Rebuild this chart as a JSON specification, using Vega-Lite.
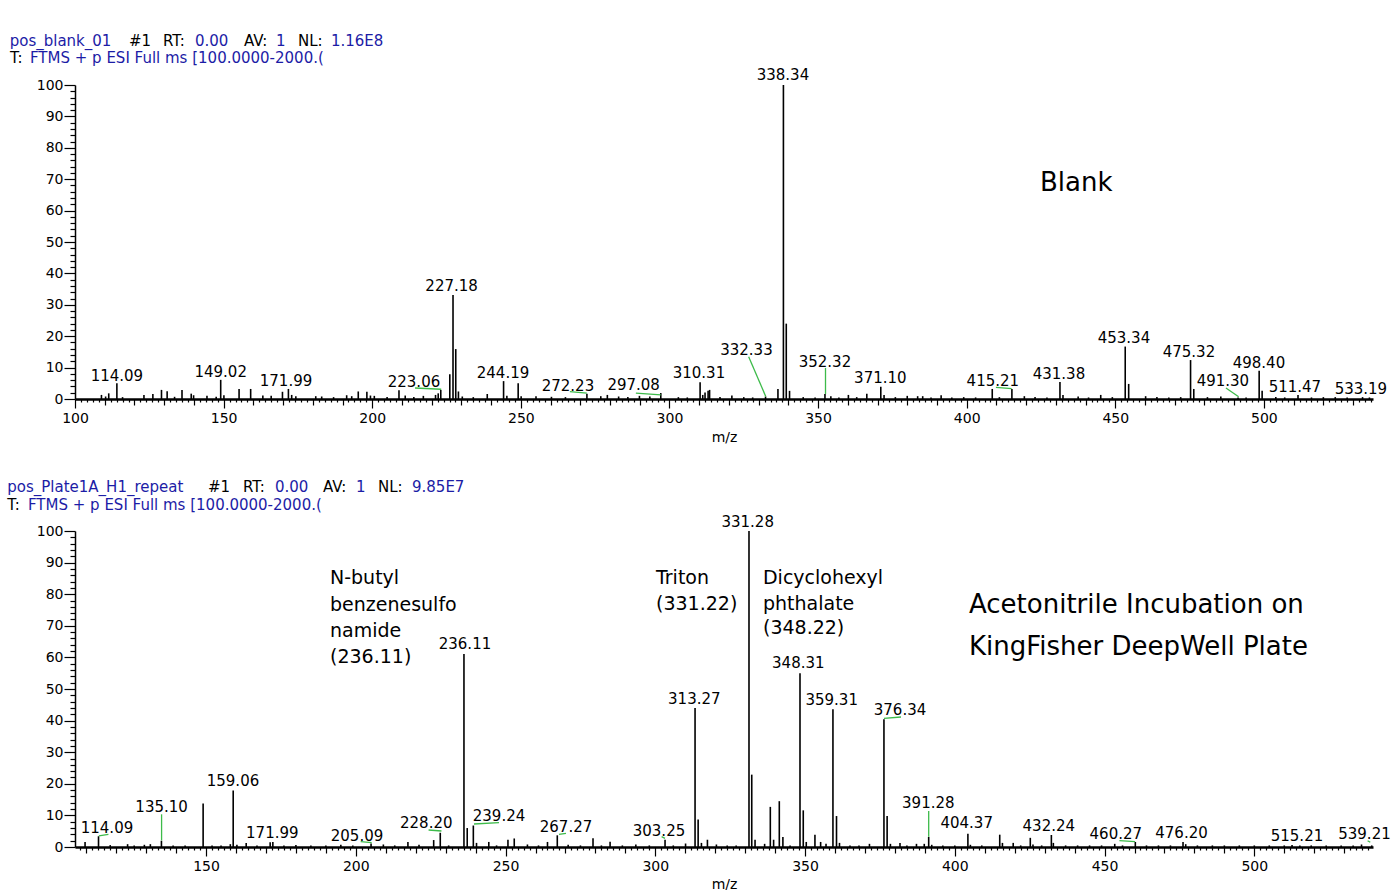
{
  "$schema": "https://vega.github.io/schema/vega-lite/v6.json",
  "background": "white",
  "padding": {"left": 7, "top": 33, "right": 0, "bottom": 0},
  "config": {
    "view": {"stroke": null},
    "axis": {
      "grid": false, "labelFont": "DejaVu Sans", "labelFontSize": 14, "labelColor": "black",
      "tickColor": "black", "domainColor": "black", "tickWidth": 1.2,
      "titleFont": "DejaVu Sans", "titleFontSize": 14, "titleFontWeight": "normal", "titleColor": "black",
      "labelOverlap": false, "labelFlush": false
    }
  },
  "datasets": {
    "top_peaks": [
      {"mz":108.9,"i":1.3},{"mz":110.3,"i":0.8},{"mz":111.35,"i":1.8},{"mz":114.09,"i":5.0},{"mz":116,"i":0.6},{"mz":123.2,"i":1.3},{"mz":126.2,"i":1.6},{"mz":129.1,"i":2.9},{"mz":131.0,"i":2.5},{"mz":133.5,"i":0.7},{"mz":136.0,"i":2.9},{"mz":139.1,"i":1.7},{"mz":139.9,"i":1.2},{"mz":144.4,"i":1.0},{"mz":147.5,"i":0.7},{"mz":149.02,"i":6.1},{"mz":150.1,"i":1.2},{"mz":155.2,"i":3.2},{"mz":159.1,"i":3.2},{"mz":163.2,"i":1.1},{"mz":166.0,"i":1.0},{"mz":169.8,"i":2.3},{"mz":171.8,"i":3.2},{"mz":172.9,"i":1.3},{"mz":174.3,"i":0.9},{"mz":181.0,"i":0.9},{"mz":183.0,"i":0.8},{"mz":187,"i":0.6},{"mz":191.4,"i":1.2},{"mz":193.1,"i":0.9},{"mz":195.3,"i":2.4},{"mz":198.2,"i":2.3},{"mz":199.4,"i":1.1},{"mz":200.7,"i":1.0},{"mz":205,"i":0.6},{"mz":209.0,"i":2.8},{"mz":211.1,"i":1.1},{"mz":214,"i":0.6},{"mz":217.2,"i":1.0},{"mz":221.3,"i":1.3},{"mz":222.2,"i":1.8},{"mz":223.06,"i":2.9},{"mz":226.1,"i":7.9},{"mz":227.18,"i":33.1},{"mz":228.1,"i":15.9},{"mz":229.0,"i":2.4},{"mz":230.3,"i":0.8},{"mz":234,"i":0.6},{"mz":238.7,"i":1.6},{"mz":244.19,"i":5.7},{"mz":245.3,"i":1.0},{"mz":249.1,"i":5.0},{"mz":250.1,"i":0.9},{"mz":255.1,"i":0.9},{"mz":260.3,"i":0.7},{"mz":265,"i":0.6},{"mz":272.23,"i":1.7},{"mz":276.9,"i":0.9},{"mz":279.1,"i":1.3},{"mz":282.9,"i":0.8},{"mz":286,"i":0.6},{"mz":289.9,"i":1.0},{"mz":293.4,"i":0.8},{"mz":297.08,"i":1.9},{"mz":303,"i":0.6},{"mz":306,"i":0.5},{"mz":310.31,"i":5.3},{"mz":311.2,"i":1.3},{"mz":311.97,"i":2.1},{"mz":313.0,"i":2.6},{"mz":313.5,"i":2.9},{"mz":317,"i":0.6},{"mz":321.0,"i":1.1},{"mz":325,"i":0.6},{"mz":328,"i":0.5},{"mz":332.33,"i":0.8},{"mz":336.5,"i":3.2},{"mz":338.34,"i":100},{"mz":339.3,"i":24},{"mz":340.4,"i":2.6},{"mz":345,"i":0.6},{"mz":349,"i":0.5},{"mz":352.32,"i":1.6},{"mz":354.3,"i":0.9},{"mz":357,"i":0.5},{"mz":360.2,"i":1.3},{"mz":363,"i":0.6},{"mz":366.4,"i":1.7},{"mz":371.10,"i":3.9},{"mz":372.2,"i":1.3},{"mz":376,"i":0.6},{"mz":380.0,"i":1.0},{"mz":383.5,"i":0.9},{"mz":385.2,"i":0.9},{"mz":388,"i":0.5},{"mz":391.4,"i":1.2},{"mz":395,"i":0.5},{"mz":399,"i":0.6},{"mz":403,"i":0.5},{"mz":408.6,"i":3.2},{"mz":411,"i":0.6},{"mz":415.21,"i":3.2},{"mz":419.4,"i":0.9},{"mz":423,"i":0.6},{"mz":427,"i":0.5},{"mz":431.38,"i":5.4},{"mz":432.4,"i":1.3},{"mz":437.5,"i":0.8},{"mz":441,"i":0.5},{"mz":445.1,"i":1.3},{"mz":449,"i":0.6},{"mz":453.34,"i":16.7},{"mz":454.5,"i":4.8},{"mz":460.2,"i":0.9},{"mz":464,"i":0.6},{"mz":468,"i":0.5},{"mz":472,"i":0.6},{"mz":475.32,"i":12.4},{"mz":476.4,"i":3.2},{"mz":481,"i":0.6},{"mz":485.5,"i":0.8},{"mz":491.3,"i":0.5},{"mz":494,"i":0.5},{"mz":498.40,"i":9.0},{"mz":499.4,"i":2.6},{"mz":504,"i":0.6},{"mz":507,"i":0.5},{"mz":511.47,"i":1.3},{"mz":516,"i":0.5},{"mz":520,"i":0.6},{"mz":524,"i":0.6},{"mz":528,"i":0.5},{"mz":533.19,"i":0.6},{"mz":535.5,"i":0.5}
    ],
    "top_labels": [
      {"t":"114.09","mz":114.09,"i":7.42},{"t":"149.02","mz":149.02,"i":8.69},{"t":"171.99","mz":171.0,"i":5.83},{"t":"223.06","mz":214.05,"i":5.32},{"t":"227.18","mz":226.7,"i":35.99},{"t":"244.19","mz":244.0,"i":8.38},{"t":"272.23","mz":265.85,"i":4.24},{"t":"297.08","mz":287.96,"i":4.46},{"t":"310.31","mz":309.92,"i":8.28},{"t":"332.33","mz":325.9,"i":15.61},{"t":"338.34","mz":338.19,"i":103.18},{"t":"352.32","mz":352.32,"i":11.88},{"t":"371.10","mz":370.95,"i":6.59},{"t":"415.21","mz":408.8,"i":5.83},{"t":"431.38","mz":431.04,"i":7.96},{"t":"453.34","mz":452.91,"i":19.52},{"t":"475.32","mz":474.78,"i":15.06},{"t":"498.40","mz":498.33,"i":11.56},{"t":"491.30","mz":486.21,"i":5.83},{"t":"511.47","mz":510.43,"i":3.92},{"t":"533.19","mz":532.64,"i":3.09}
    ],
    "top_lines": [
      {"mz":214.4,"i":3.5,"mz2":223.2,"i2":3.1},{"mz":266.5,"i":2.33,"mz2":272.2,"i2":1.9},{"mz":288.7,"i":1.9,"mz2":297.1,"i2":1.3},{"mz":326.65,"i":13.47,"mz2":332.4,"i2":0.8},{"mz":352.5,"i":9.9,"mz2":352.5,"i2":1.6},{"mz":409.84,"i":3.73,"mz2":415.12,"i2":3.28},{"mz":487.22,"i":3.5,"mz2":491.5,"i2":0.7}
    ],
    "top_head": [
      {"t":"pos_blank_01","mz":78.03,"i":114.11,"k":"val"},{"t":"#1","mz":118.17,"i":114.11,"k":"key"},{"t":"RT:","mz":129.6,"i":114.11,"k":"key"},{"t":"0.00","mz":140.37,"i":114.11,"k":"val"},{"t":"AV:","mz":156.85,"i":114.11,"k":"key"},{"t":"1","mz":167.62,"i":114.11,"k":"val"},{"t":"NL:","mz":175.02,"i":114.11,"k":"key"},{"t":"1.16E8","mz":186.12,"i":114.11,"k":"val"},
      {"t":"T:","mz":78.13,"i":108.5,"k":"key"},{"t":"FTMS + p ESI Full ms [100.0000-2000.(","mz":84.86,"i":108.5,"k":"val"}
    ],
    "bot_peaks": [
      {"mz":109.6,"i":1.6},{"mz":114.09,"i":3.4},{"mz":118,"i":0.6},{"mz":123.8,"i":0.9},{"mz":126,"i":0.5},{"mz":129.4,"i":0.7},{"mz":131.4,"i":0.9},{"mz":135.10,"i":2.0},{"mz":139,"i":0.5},{"mz":143,"i":0.5},{"mz":149.02,"i":13.8},{"mz":152,"i":0.5},{"mz":155,"i":0.5},{"mz":158.1,"i":0.9},{"mz":159.06,"i":17.9},{"mz":160.3,"i":0.7},{"mz":163.4,"i":1.3},{"mz":167,"i":0.5},{"mz":171.4,"i":1.5},{"mz":172.3,"i":1.6},{"mz":176,"i":0.5},{"mz":180,"i":0.6},{"mz":185,"i":0.5},{"mz":190,"i":0.5},{"mz":195.0,"i":0.7},{"mz":199,"i":0.5},{"mz":205.09,"i":1.1},{"mz":209.2,"i":0.8},{"mz":213,"i":0.5},{"mz":217.4,"i":1.6},{"mz":221.1,"i":0.7},{"mz":226.0,"i":2.2},{"mz":228.20,"i":4.5},{"mz":231,"i":0.5},{"mz":236.11,"i":61.1},{"mz":237.2,"i":6.0},{"mz":239.24,"i":6.8},{"mz":240.3,"i":1.3},{"mz":244.4,"i":1.6},{"mz":247,"i":0.5},{"mz":250.8,"i":2.3},{"mz":252.9,"i":2.7},{"mz":257.3,"i":0.8},{"mz":261,"i":0.5},{"mz":264.0,"i":1.6},{"mz":267.27,"i":3.7},{"mz":270.9,"i":0.7},{"mz":275,"i":0.5},{"mz":279.2,"i":2.8},{"mz":282,"i":0.5},{"mz":284.9,"i":1.7},{"mz":289,"i":0.5},{"mz":293.5,"i":0.8},{"mz":298,"i":0.5},{"mz":303.25,"i":2.3},{"mz":306,"i":0.5},{"mz":310.1,"i":1.1},{"mz":313.27,"i":44.0},{"mz":314.3,"i":8.7},{"mz":315.4,"i":1.3},{"mz":317.4,"i":2.3},{"mz":320.4,"i":0.8},{"mz":324,"i":0.5},{"mz":327,"i":0.5},{"mz":331.28,"i":100},{"mz":332.2,"i":22.9},{"mz":333.3,"i":2.3},{"mz":336.5,"i":1.0},{"mz":338.4,"i":12.7},{"mz":339.5,"i":2.3},{"mz":341.4,"i":14.5},{"mz":342.6,"i":3.2},{"mz":345,"i":0.5},{"mz":348.31,"i":55.0},{"mz":349.4,"i":11.6},{"mz":350.4,"i":1.6},{"mz":353.3,"i":3.9},{"mz":355.2,"i":1.6},{"mz":357.0,"i":1.0},{"mz":359.31,"i":43.6},{"mz":360.5,"i":9.8},{"mz":361.5,"i":1.3},{"mz":365,"i":0.5},{"mz":368,"i":0.5},{"mz":371.5,"i":1.0},{"mz":376.34,"i":40.4},{"mz":377.4,"i":9.8},{"mz":378.5,"i":1.0},{"mz":381.7,"i":1.3},{"mz":384,"i":0.5},{"mz":387.2,"i":1.0},{"mz":389.8,"i":1.0},{"mz":391.28,"i":3.2},{"mz":392.3,"i":0.7},{"mz":396,"i":0.5},{"mz":400,"i":0.5},{"mz":404.37,"i":4.2},{"mz":405.2,"i":0.7},{"mz":409,"i":0.5},{"mz":415.0,"i":3.9},{"mz":415.9,"i":1.3},{"mz":419.5,"i":1.3},{"mz":422,"i":0.5},{"mz":425.2,"i":2.9},{"mz":426.1,"i":0.8},{"mz":429,"i":0.5},{"mz":432.24,"i":3.8},{"mz":432.9,"i":1.3},{"mz":437,"i":0.5},{"mz":441,"i":0.5},{"mz":445,"i":0.5},{"mz":449,"i":0.5},{"mz":453.4,"i":1.0},{"mz":456,"i":0.5},{"mz":460.27,"i":1.6},{"mz":464,"i":0.5},{"mz":468,"i":0.5},{"mz":472,"i":0.5},{"mz":476.20,"i":1.6},{"mz":477.1,"i":0.9},{"mz":481,"i":0.5},{"mz":486,"i":0.5},{"mz":490,"i":0.5},{"mz":495,"i":0.5},{"mz":500,"i":0.5},{"mz":505,"i":0.5},{"mz":510,"i":0.5},{"mz":512.6,"i":0.6},{"mz":515.21,"i":0.5},{"mz":519,"i":0.5},{"mz":524,"i":0.5},{"mz":529,"i":0.5},{"mz":533,"i":0.5},{"mz":535.8,"i":0.8},{"mz":539.21,"i":0.5}
    ],
    "bot_labels": [
      {"t":"114.09","mz":116.92,"i":5.92},{"t":"135.10","mz":135.15,"i":12.56},{"t":"159.06","mz":158.99,"i":20.98},{"t":"171.99","mz":172.12,"i":4.34},{"t":"205.09","mz":200.4,"i":3.58},{"t":"228.20","mz":223.53,"i":7.5},{"t":"239.24","mz":247.81,"i":9.81},{"t":"267.27","mz":270.18,"i":6.42},{"t":"303.25","mz":301.23,"i":5.16},{"t":"313.27","mz":313.02,"i":46.74},{"t":"236.11","mz":236.45,"i":64.24},{"t":"331.28","mz":330.85,"i":102.94},{"t":"348.31","mz":347.74,"i":58.13},{"t":"359.31","mz":358.89,"i":46.52},{"t":"376.34","mz":381.7,"i":43.35},{"t":"391.28","mz":391.15,"i":13.83},{"t":"404.37","mz":403.97,"i":7.5},{"t":"432.24","mz":431.38,"i":6.65},{"t":"460.27","mz":453.75,"i":4.11},{"t":"476.20","mz":475.69,"i":4.34},{"t":"515.21","mz":514.25,"i":3.48},{"t":"539.21","mz":536.79,"i":4.02}
    ],
    "bot_lines": [
      {"mz":114.2,"i":3.5,"mz2":117.4,"i2":4.0},{"mz":135.15,"i":10.35,"mz2":135.15,"i2":2.1},{"mz":201.63,"i":1.68,"mz2":205.3,"i2":1.36},{"mz":224.3,"i":5.38,"mz2":228.6,"i2":5.06},{"mz":239.46,"i":7.28,"mz2":247.81,"i2":7.69},{"mz":267.84,"i":4.02,"mz2":270.18,"i2":4.34},{"mz":302.1,"i":3.26,"mz2":303.23,"i2":2.75},{"mz":376.35,"i":40.73,"mz2":382.03,"i2":41.14},{"mz":391.28,"i":11.39,"mz2":391.28,"i2":3.26},{"mz":454.95,"i":1.99,"mz2":460.16,"i2":1.68},{"mz":537.83,"i":1.99,"mz2":538.73,"i2":1.49}
    ],
    "bot_head": [
      {"t":"pos_Plate1A_H1_repeat","mz":83.63,"i":114.02,"k":"val"},{"t":"#1","mz":150.64,"i":114.02,"k":"key"},{"t":"RT:","mz":162.33,"i":114.02,"k":"key"},{"t":"0.00","mz":173.02,"i":114.02,"k":"val"},{"t":"AV:","mz":189.04,"i":114.02,"k":"key"},{"t":"1","mz":200.06,"i":114.02,"k":"val"},{"t":"NL:","mz":207.4,"i":114.02,"k":"key"},{"t":"9.85E7","mz":218.76,"i":114.02,"k":"val"},
      {"t":"T:","mz":83.63,"i":108.23,"k":"key"},{"t":"FTMS + p ESI Full ms [100.0000-2000.(","mz":90.55,"i":108.23,"k":"val"}
    ]
  },
  "vconcat": [
    {
      "width": 1298, "height": 314,
      "layer": [
        {
          "data": {"name": "top_peaks"},
          "mark": {"type": "rule", "color": "black", "strokeWidth": 1.6},
          "encoding": {
            "x": {"field": "mz", "type": "quantitative", "scale": {"domain": [100, 536.7], "nice": false, "zero": false},
              "axis": {"title": "m/z", "tickCount": 218, "labelExpr": "datum.value % 50 === 0 ? datum.label : ''",
                "tickSize": {"condition": [{"test": "datum.value % 50 === 0", "value": 9}, {"test": "datum.value % 10 === 0", "value": 6}], "value": 3},
                "labelPadding": 3, "titlePadding": 5, "domainWidth": 2.5}},
            "y": {"field": "i", "type": "quantitative", "scale": {"domain": [0, 100], "nice": false},
              "axis": {"title": null, "tickCount": 50, "labelExpr": "datum.value % 10 === 0 ? datum.label : ''",
                "tickSize": {"condition": {"test": "datum.value % 10 === 0", "value": 11}, "value": 5},
                "labelPadding": 1, "domainWidth": 1.5}},
            "y2": {"datum": 0}
          }
        },
        {
          "data": {"name": "top_lines"},
          "mark": {"type": "rule", "color": "#3dbb4a", "strokeWidth": 1.3},
          "encoding": {
            "x": {"field": "mz", "type": "quantitative"}, "y": {"field": "i", "type": "quantitative"},
            "x2": {"field": "mz2"}, "y2": {"field": "i2"}
          }
        },
        {
          "data": {"name": "top_labels"},
          "mark": {"type": "text", "font": "DejaVu Sans", "fontSize": 15, "align": "center", "baseline": "middle", "color": "black"},
          "encoding": {
            "x": {"field": "mz", "type": "quantitative"}, "y": {"field": "i", "type": "quantitative"},
            "text": {"field": "t"}
          }
        },
        {
          "data": {"name": "top_head"},
          "mark": {"type": "text", "font": "DejaVu Sans", "fontSize": 15, "align": "left", "baseline": "middle"},
          "encoding": {
            "x": {"field": "mz", "type": "quantitative"}, "y": {"field": "i", "type": "quantitative"},
            "text": {"field": "t"},
            "color": {"field": "k", "type": "nominal", "scale": {"domain": ["key", "val"], "range": ["#000000", "#1c1ca6"]}, "legend": null}
          }
        },
        {
          "data": {"values": [{"t": "Blank", "mz": 424.64, "i": 68.79}]},
          "mark": {"type": "text", "font": "DejaVu Sans", "fontSize": 26, "align": "left", "baseline": "middle", "color": "black"},
          "encoding": {
            "x": {"field": "mz", "type": "quantitative"}, "y": {"field": "i", "type": "quantitative"},
            "text": {"field": "t"}
          }
        }
      ]
    },
    {
      "width": 1298, "height": 316,
      "layer": [
        {
          "data": {"name": "bot_peaks"},
          "mark": {"type": "rule", "color": "black", "strokeWidth": 1.6},
          "encoding": {
            "x": {"field": "mz", "type": "quantitative", "scale": {"domain": [106.24, 539.63], "nice": false, "zero": false},
              "axis": {"title": "m/z", "tickCount": 217, "labelExpr": "datum.value % 50 === 0 ? datum.label : ''",
                "tickSize": {"condition": [{"test": "datum.value % 50 === 0", "value": 9}, {"test": "datum.value % 10 === 0", "value": 6}], "value": 3},
                "labelPadding": 3, "titlePadding": 4, "domainWidth": 2.5}},
            "y": {"field": "i", "type": "quantitative", "scale": {"domain": [0, 100], "nice": false},
              "axis": {"title": null, "tickCount": 50, "labelExpr": "datum.value % 10 === 0 ? datum.label : ''",
                "tickSize": {"condition": {"test": "datum.value % 10 === 0", "value": 11}, "value": 5},
                "labelPadding": 1, "domainWidth": 1.5}},
            "y2": {"datum": 0}
          }
        },
        {
          "data": {"name": "bot_lines"},
          "mark": {"type": "rule", "color": "#3dbb4a", "strokeWidth": 1.3},
          "encoding": {
            "x": {"field": "mz", "type": "quantitative"}, "y": {"field": "i", "type": "quantitative"},
            "x2": {"field": "mz2"}, "y2": {"field": "i2"}
          }
        },
        {
          "data": {"name": "bot_labels"},
          "mark": {"type": "text", "font": "DejaVu Sans", "fontSize": 15, "align": "center", "baseline": "middle", "color": "black"},
          "encoding": {
            "x": {"field": "mz", "type": "quantitative"}, "y": {"field": "i", "type": "quantitative"},
            "text": {"field": "t"}
          }
        },
        {
          "data": {"name": "bot_head"},
          "mark": {"type": "text", "font": "DejaVu Sans", "fontSize": 15, "align": "left", "baseline": "middle"},
          "encoding": {
            "x": {"field": "mz", "type": "quantitative"}, "y": {"field": "i", "type": "quantitative"},
            "text": {"field": "t"},
            "color": {"field": "k", "type": "nominal", "scale": {"domain": ["key", "val"], "range": ["#000000", "#1c1ca6"]}, "legend": null}
          }
        },
        {
          "data": {"values": [
            {"t": "N-butyl", "mz": 191.38, "i": 85.13},
            {"t": "benzenesulfo", "mz": 191.38, "i": 76.58},
            {"t": "namide", "mz": 191.38, "i": 68.35},
            {"t": "(236.11)", "mz": 191.38, "i": 60.13},
            {"t": "Triton", "mz": 300.23, "i": 85.13},
            {"t": "(331.22)", "mz": 300.23, "i": 76.8},
            {"t": "Dicyclohexyl", "mz": 335.95, "i": 85.13},
            {"t": "phthalate", "mz": 335.95, "i": 76.9},
            {"t": "(348.22)", "mz": 335.95, "i": 69.2}
          ]},
          "mark": {"type": "text", "font": "DejaVu Sans", "fontSize": 19, "align": "left", "baseline": "middle", "color": "black"},
          "encoding": {
            "x": {"field": "mz", "type": "quantitative"}, "y": {"field": "i", "type": "quantitative"},
            "text": {"field": "t"}
          }
        },
        {
          "data": {"values": [
            {"t": "Acetonitrile Incubation on", "mz": 404.73, "i": 76.58},
            {"t": "KingFisher DeepWell Plate", "mz": 404.73, "i": 63.29}
          ]},
          "mark": {"type": "text", "font": "DejaVu Sans", "fontSize": 26, "align": "left", "baseline": "middle", "color": "black"},
          "encoding": {
            "x": {"field": "mz", "type": "quantitative"}, "y": {"field": "i", "type": "quantitative"},
            "text": {"field": "t"}
          }
        }
      ]
    }
  ],
  "spacing": 132,
  "bounds": "flush",
  "resolve": {"scale": {"x": "independent", "y": "independent"}}
}
